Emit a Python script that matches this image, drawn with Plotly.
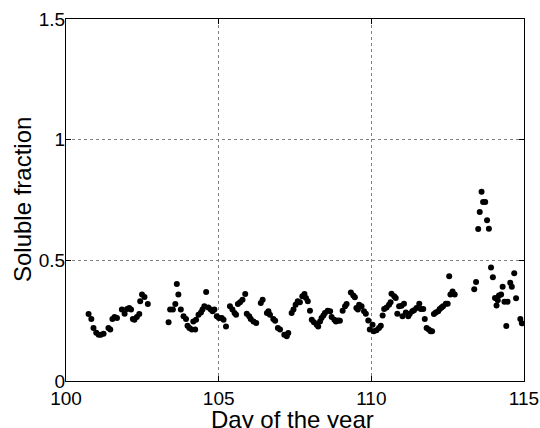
import plotly.graph_objects as go

day = [100.74, 100.83, 100.90, 100.99, 101.07, 101.14, 101.23, 101.39, 101.45, 101.52,
       101.59, 101.67, 101.83, 101.92, 102.00, 102.07, 102.13, 102.19, 102.24, 102.32,
       102.40, 102.43, 102.49, 102.57, 102.68,
       103.36, 103.41, 103.50, 103.58, 103.63, 103.68, 103.76, 103.85, 103.93, 103.98,
       104.04, 104.12, 104.17, 104.23, 104.26, 104.34, 104.42, 104.47, 104.53, 104.59,
       104.66, 104.74, 104.80, 104.86, 104.94, 105.01, 105.10, 105.16, 105.24, 105.37,
       105.45, 105.52, 105.57, 105.63, 105.70, 105.78, 105.87, 105.92, 106.00, 106.05,
       106.14, 106.23, 106.38, 106.44, 106.58, 106.63, 106.68, 106.79, 106.85, 106.94,
       107.01, 107.15, 107.23, 107.28, 107.39, 107.45, 107.52, 107.59, 107.66, 107.74,
       107.81, 107.86, 107.92, 107.99, 108.05, 108.12, 108.21, 108.26, 108.32, 108.37,
       108.43, 108.48, 108.57, 108.65, 108.70, 108.79, 108.84, 108.92, 108.97, 109.06,
       109.14, 109.19, 109.33, 109.41, 109.46, 109.51, 109.56, 109.60, 109.68, 109.76,
       109.82, 109.90, 109.95, 110.04, 110.08, 110.17, 110.25, 110.31, 110.37, 110.42,
       110.50, 110.58, 110.63, 110.66, 110.75, 110.80, 110.85, 110.91, 110.99, 111.02,
       111.07, 111.13, 111.21, 111.26, 111.34, 111.40, 111.48, 111.57, 111.62, 111.70,
       111.75, 111.81, 111.88, 111.94, 111.99, 112.05, 112.11, 112.19, 112.24, 112.30,
       112.35, 112.44, 112.50, 112.55, 112.59, 112.66, 112.73,
       113.37, 113.43, 113.50, 113.55, 113.61, 113.66, 113.73, 113.79, 113.85, 113.92,
       113.98, 114.05, 114.10, 114.14, 114.18, 114.25, 114.30, 114.36, 114.42, 114.46,
       114.55, 114.60, 114.68, 114.74, 114.88, 114.93]

soluble_fraction = [0.278, 0.257, 0.220, 0.200, 0.192, 0.192, 0.196, 0.220, 0.213, 0.257,
                    0.265, 0.261, 0.296, 0.279, 0.298, 0.303, 0.296, 0.257, 0.254, 0.265,
                    0.278, 0.330, 0.358, 0.348, 0.319,
                    0.243, 0.296, 0.296, 0.319, 0.402, 0.358, 0.296, 0.268, 0.257, 0.229,
                    0.220, 0.213, 0.247, 0.213, 0.254, 0.275, 0.284, 0.296, 0.310, 0.369,
                    0.305, 0.296, 0.289, 0.296, 0.268, 0.261, 0.261, 0.254, 0.226, 0.310,
                    0.296, 0.282, 0.275, 0.319, 0.326, 0.337, 0.361, 0.279, 0.268, 0.257,
                    0.247, 0.240, 0.323, 0.337, 0.282, 0.289, 0.275, 0.257, 0.250, 0.220,
                    0.213, 0.192, 0.185, 0.199, 0.282, 0.296, 0.316, 0.330, 0.326, 0.351,
                    0.361, 0.344, 0.330, 0.291, 0.254, 0.243, 0.233, 0.226, 0.247, 0.261,
                    0.271, 0.282, 0.291, 0.289, 0.265, 0.254, 0.247, 0.251, 0.250, 0.291,
                    0.310, 0.319, 0.367, 0.354, 0.347, 0.303, 0.296, 0.316, 0.310, 0.289,
                    0.279, 0.251, 0.213, 0.233, 0.206, 0.210, 0.220, 0.229, 0.271, 0.298,
                    0.305, 0.316, 0.326, 0.362, 0.351, 0.344, 0.279, 0.310, 0.312, 0.268,
                    0.320, 0.284, 0.268, 0.279, 0.289, 0.293, 0.303, 0.320, 0.298, 0.298,
                    0.257, 0.220, 0.213, 0.206, 0.206, 0.278, 0.284, 0.289, 0.298, 0.305,
                    0.310, 0.320, 0.320, 0.434, 0.358, 0.371, 0.358,
                    0.380, 0.410, 0.630, 0.700, 0.784, 0.742, 0.742, 0.666, 0.631, 0.470,
                    0.430, 0.344, 0.313, 0.335, 0.354, 0.358, 0.391, 0.328, 0.228, 0.328,
                    0.407, 0.391, 0.446, 0.343, 0.257, 0.239]

x_ticks = [100, 105, 110, 115]
y_ticks = [0, 0.5, 1, 1.5]
y_tick_labels = ["0", "0.5", "1", "1.5"]
x_title = "Day of the year"
y_title = "Soluble fraction"

font_family = "Liberation Sans, Arial, Helvetica, sans-serif"

fig = go.Figure()
fig.add_trace(go.Scatter(
    x=day, y=soluble_fraction, mode="markers",
    marker=dict(color="black", size=6, line=dict(width=0)),
    showlegend=False,
))

axis_common = dict(
    showline=True, linecolor="black", linewidth=1, mirror="ticks",
    ticks="inside", ticklen=5, tickcolor="black",
    showgrid=True, gridcolor="#808080", griddash="dot", gridwidth=1,
    zeroline=False, automargin=False,
    tickfont=dict(family=font_family, size=19, color="black"),
)

fig.update_xaxes(
    range=[100, 115], tickvals=x_ticks, ticktext=[str(v) for v in x_ticks],
    **axis_common,
)
fig.update_yaxes(
    range=[0, 1.5], tickvals=y_ticks, ticktext=y_tick_labels,
    ticklabelstandoff=-4,
    **axis_common,
)

title_font = dict(family=font_family, size=24, color="black")
fig.add_annotation(
    text=x_title, xref="paper", yref="paper", x=0.495, y=-0.105,
    xanchor="center", yanchor="middle", showarrow=False, font=title_font,
)
fig.add_annotation(
    text=y_title, xref="paper", yref="paper", x=-0.096, y=0.5,
    xanchor="center", yanchor="middle", textangle=-90, showarrow=False, font=title_font,
)

fig.update_layout(
    width=540, height=428,
    margin=dict(l=66, r=16, t=19, b=47),
    paper_bgcolor="white", plot_bgcolor="white",
    font=dict(family=font_family, color="black"),
)

fig.write_html("out.html")
